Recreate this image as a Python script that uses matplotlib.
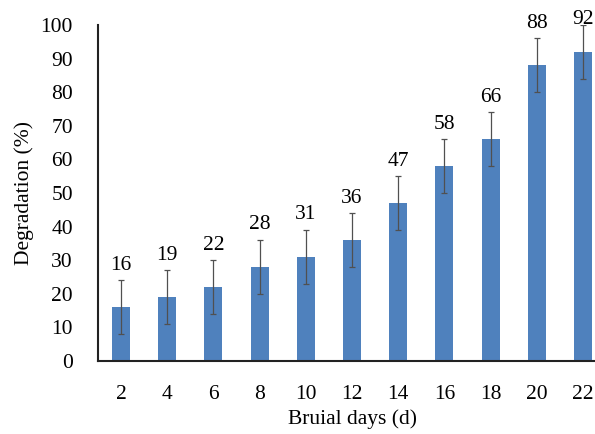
import numpy as np
import matplotlib
matplotlib.use('Agg')
import matplotlib.pyplot as plt

plt.rcParams['font.family'] = ['Liberation Serif', 'DejaVu Serif']

days = ['2', '4', '6', '8', '10', '12', '14', '16', '18', '20', '22']
degradation = [16, 19, 22, 28, 31, 36, 47, 58, 66, 88, 92]
errors = [8, 8, 8, 8, 8, 8, 8, 8, 8, 8, 8]

fig = plt.figure(figsize=(5.95, 4.34), dpi=100)
ax = fig.add_axes([0.1647, 0.1682, 0.8538, 0.7742])

x = np.arange(len(days))
ax.bar(x, degradation, width=0.39, color='#4F81BD', zorder=2)
ax.errorbar(x, degradation, yerr=errors, fmt='none', ecolor='#505050',
            elinewidth=0.9, capsize=2.5, capthick=0.9, zorder=3)

# value labels above the bars (Excel style)
for xi, v in zip(x, degradation):
    ax.text(xi, min(v + 12.5, 101.5), str(v), ha='center', va='center', fontsize=15.5)

ax.set_xlim(-0.5, len(days) - 0.5)
ax.set_ylim(0, 100)
ax.set_yticks(range(0, 101, 10))
ax.set_xticks(x)
ax.set_xticklabels(days)
ax.tick_params(axis='both', length=0, labelsize=15.5)
ax.tick_params(axis='x', pad=17)
ax.tick_params(axis='y', pad=18)

for s in ['top', 'right']:
    ax.spines[s].set_visible(False)
for s in ['left', 'bottom']:
    ax.spines[s].set_linewidth(1.5)
    ax.spines[s].set_color('#222222')

ax.set_xlabel('Bruial days (d)', fontsize=15.5, labelpad=4)
ax.set_ylabel('Degradation (%)', fontsize=15.5, labelpad=5)

fig.savefig('out.png', dpi=100)
